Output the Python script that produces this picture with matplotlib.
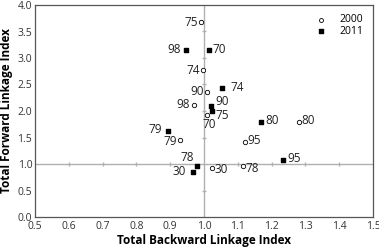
import matplotlib.pyplot as plt

plt.rcParams["font.family"] = ["Open Sans", "DejaVu Sans"]

# 2000 (open circles)
lab_2000 = ["75", "74", "90", "98", "70", "80", "79", "95", "78", "30"]
bl_2000 = [0.99, 0.997, 1.008, 0.97, 1.008, 1.28, 0.928, 1.12, 1.115, 1.024]
fl_2000 = [3.67, 2.77, 2.36, 2.12, 1.93, 1.79, 1.46, 1.42, 0.96, 0.93]

# 2011 (filled squares)
lab_2011 = ["98", "70", "74", "90", "75", "80", "79", "95", "78", "30"]
bl_2011 = [0.947, 1.016, 1.053, 1.02, 1.023, 1.17, 0.893, 1.233, 0.98, 0.968]
fl_2011 = [3.16, 3.16, 2.44, 2.10, 2.00, 1.80, 1.63, 1.07, 0.96, 0.85]

# label offsets (points)
off_2000 = [(-2, 0, "right"), (-2, 0, "right"), (-2, 0, "right"), (-3, 0, "right"),
            (-3, -7, "left"), (2, 1, "left"), (-2, -1, "right"), (2, 1, "left"),
            (2, -2, "left"), (2, -1, "left")]
off_2011 = [(-4, 0, "right"), (2, 0, "left"), (6, 0, "left"), (3, 3, "left"),
            (3, -3, "left"), (3, 1, "left"), (-4, 1, "right"), (3, 1, "left"),
            (-2, 6, "right"), (-5, 0, "right")]

fig = plt.figure(figsize=(3.79, 2.47), dpi=100)
ax = fig.add_axes([35 / 379, 30 / 247, 338 / 379, 212 / 247])

ax.axhline(1.0, color="#b0b0b0", lw=1, zorder=1)
ax.axvline(1.0, color="#b0b0b0", lw=1, zorder=1)
# small ticks on the crossing lines
xt = [0.6, 0.7, 0.8, 0.9, 1.1, 1.2, 1.3, 1.4]
yt = [0.5, 1.5, 2.0, 2.5, 3.0, 3.5]
ax.plot(xt, [1.0] * len(xt), ls="none", marker="|", ms=2.5, color="#b0b0b0", zorder=1)
ax.plot([1.0] * len(yt), yt, ls="none", marker="_", ms=2.5, color="#b0b0b0", zorder=1)

ax.scatter(bl_2000, fl_2000, marker="o", s=10, facecolors="white",
           edgecolors="black", linewidths=0.6, label="2000", zorder=3)
ax.scatter(bl_2011, fl_2011, marker="s", s=10, color="black", label="2011", zorder=3)

for lab, x, y, (dx, dy, ha) in zip(lab_2000, bl_2000, fl_2000, off_2000):
    ax.annotate(lab, (x, y), xytext=(dx, dy), textcoords="offset points",
                ha=ha, va="center", fontsize=8.5, color="#222222")
for lab, x, y, (dx, dy, ha) in zip(lab_2011, bl_2011, fl_2011, off_2011):
    ax.annotate(lab, (x, y), xytext=(dx, dy), textcoords="offset points",
                ha=ha, va="center", fontsize=8.5, color="#222222")

ax.set_xlim(0.5, 1.5)
ax.set_ylim(0.0, 4.0)
ax.set_xticks([0.5, 0.6, 0.7, 0.8, 0.9, 1.0, 1.1, 1.2, 1.3, 1.4, 1.5])
ax.set_yticks([0.0, 0.5, 1.0, 1.5, 2.0, 2.5, 3.0, 3.5, 4.0])
ax.set_xticklabels([f"{v:.1f}" for v in ax.get_xticks()])
ax.set_yticklabels([f"{v:.1f}" for v in ax.get_yticks()])
ax.tick_params(axis="x", length=0, labelsize=7.5, colors="#333333", pad=3)
ax.tick_params(axis="y", length=0, labelsize=7.5, colors="#333333", pad=2)
for s in ax.spines.values():
    s.set_color("#555555")
    s.set_linewidth(0.9)

ax.set_xlabel("Total Backward Linkage Index", fontsize=8.5, fontweight="bold", labelpad=1)
ax.set_ylabel("Total Forward Linkage Index", fontsize=8.5, fontweight="bold", labelpad=3)

ax.legend(loc="upper right", frameon=False, fontsize=7.5, handletextpad=0.8,
          borderaxespad=0.5, labelspacing=0.05, markerscale=0.9)

fig.savefig("out.png", dpi=100)
